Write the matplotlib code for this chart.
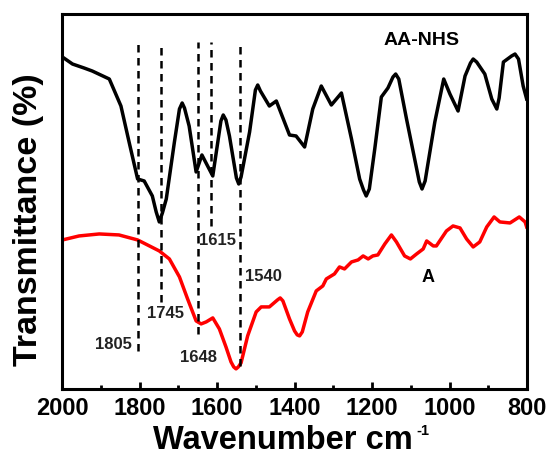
import matplotlib.pyplot as plt
from matplotlib.ticker import MultipleLocator

plt.rcParams['font.family'] = ['Liberation Sans', 'DejaVu Sans']
plt.rcParams['font.weight'] = 'bold'

# Espectro AA-NHS (preto)
wn_aanhs = [1999, 1973, 1943, 1922, 1878, 1848, 1827, 1805, 1788, 1767, 1757, 1749, 1741,
            1731, 1710, 1697, 1690, 1684, 1672, 1654, 1639, 1611, 1590, 1584, 1577, 1568,
            1550, 1544, 1538, 1516, 1501, 1495, 1488, 1465, 1447, 1413, 1396, 1374,
            1353, 1331, 1305, 1279, 1253, 1232, 1222, 1215, 1207, 1193, 1176, 1159,
            1146, 1139, 1131, 1111, 1090, 1078, 1071, 1063, 1055, 1038, 1015, 999,
            978, 960, 946, 939, 930, 909, 891, 878, 872, 861, 840, 831, 822, 810, 801]
t_aanhs = [332, 325, 321, 318, 310, 283, 247, 210, 208, 193, 177, 167, 176,
           190, 247, 280, 286, 281, 263, 217, 234, 213, 268, 274, 269, 253,
           211, 205, 212, 257, 299, 304, 298, 283, 288, 254, 253, 242,
           280, 303, 284, 296, 250, 210, 199, 193, 200, 240, 292, 301,
           312, 315, 310, 270, 230, 207, 200, 208, 227, 267, 310, 295,
           278, 313, 326, 330, 327, 315, 290, 280, 291, 327, 333, 335, 330, 303, 290]

# Espectro A (vermelho)
wn_a = [1999, 1956, 1904, 1853, 1805, 1749, 1723, 1697, 1676, 1654, 1641, 1628,
        1611, 1594, 1577, 1564, 1557, 1551, 1545, 1538, 1521, 1499, 1486, 1465,
        1444, 1437, 1430, 1413, 1400, 1393, 1387, 1380, 1366, 1344, 1327, 1318,
        1297, 1284, 1271, 1253, 1236, 1223, 1210, 1198, 1185, 1167, 1150, 1137,
        1116, 1101, 1085, 1068, 1059, 1042, 1034, 1008, 991, 973, 956, 939, 922,
        904, 885, 870, 844, 820, 805, 801]
t_a = [149, 153, 155, 154, 149, 138, 130, 112, 90, 68, 65, 67,
       71, 60, 42, 27, 22, 20, 22, 26, 53, 77, 82, 82,
       89, 91, 88, 70, 58, 54, 53, 57, 77, 98, 103, 110,
       115, 122, 120, 127, 129, 133, 130, 133, 134, 145, 154, 147,
       133, 130, 135, 140, 148, 143, 143, 158, 163, 161, 150, 142, 147,
       162, 172, 167, 166, 172, 167, 162]

# Picos marcados
peaks = [1805, 1745, 1648, 1615, 1540]
peak_labels = ['1805', '1745', '1648', '1615', '1540']

fig = plt.figure(figsize=(5.49, 4.56), dpi=100)
ax = fig.add_axes([0.113, 0.145, 0.847, 0.822])

ax.plot(wn_aanhs, t_aanhs, color='black', linewidth=2.5, solid_joinstyle='round')
ax.plot(wn_a, t_a, color='red', linewidth=2.5, solid_joinstyle='round')

# linhas tracejadas (x do pico, y inferior) e posição dos rótulos
line_bottom = [38, 87, 55, 163, 23]
label_pos = [(1868, 45), (1734, 76), (1647, 32), (1600, 149), (1480, 113)]
for p, yb, lab, (lx, ly) in zip(peaks, line_bottom, peak_labels, label_pos):
    ax.plot([p, p], [yb, 347], color='black', linestyle=(0, (3, 2.2)), linewidth=1.8)
    ax.text(lx, ly, lab, fontsize=12, fontweight='bold', ha='center', va='center',
            color='#222222')

ax.text(1072, 350, 'AA-NHS', fontsize=14, fontweight='bold', ha='center', va='center')
ax.text(1055, 112, 'A', fontsize=13, fontweight='bold', ha='center', va='center')

ax.set_xlim(2000, 800)
ax.set_ylim(0, 375)
ax.xaxis.set_major_locator(MultipleLocator(200))
ax.xaxis.set_minor_locator(MultipleLocator(100))
ax.set_yticks([])
ax.tick_params(axis='x', which='major', direction='in', length=5, width=2,
               labelsize=17, pad=5)
ax.tick_params(axis='x', which='minor', direction='in', length=3, width=2)
for s in ax.spines.values():
    s.set_linewidth(2.2)

xl = ax.set_xlabel('Wavenumber cm', fontsize=23.5, fontweight='bold')
ax.xaxis.set_label_coords(0.475, -0.095)
ax.set_ylabel('Transmittance (%)', fontsize=24.5, fontweight='bold')
ax.yaxis.set_label_coords(-0.039, 0.455)

# expoente "-1" junto ao rótulo do eixo x
fig.canvas.draw()
bb = xl.get_window_extent().transformed(fig.transFigure.inverted())
fig.text(bb.x1 + 0.006, bb.y1 + 0.004, '-1', fontsize=10.5, fontweight='bold',
         ha='left', va='top')

plt.savefig('out.png', dpi=100)
